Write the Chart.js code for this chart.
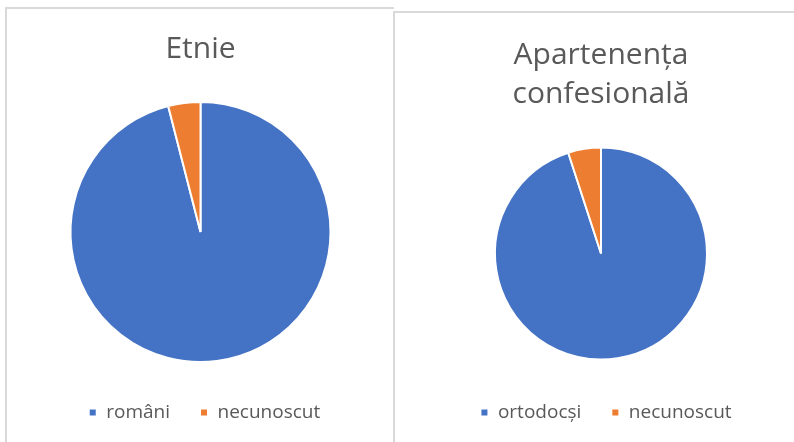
<!DOCTYPE html>
<html><head><meta charset="utf-8">
<script src="https://cdn.jsdelivr.net/npm/chart.js@4.4.0/dist/chart.umd.min.js"></script>
<style>
html,body{margin:0;padding:0;background:#fff;width:794px;height:442px;overflow:hidden;position:relative}
.box{position:absolute;border-top:2px solid #d9d9d9;border-left:2px solid #d9d9d9;box-sizing:border-box;background:#fff}
#b1{left:5px;top:7px;width:389px;height:445px}
#b2{left:393px;top:11px;width:420px;height:445px}
canvas{position:absolute}
#c1{left:4px;top:0px}
#c2{left:1px;top:0px}
</style></head><body>
<div class="box" id="b1"><canvas id="c1" width="387" height="433"></canvas></div>
<div class="box" id="b2"><canvas id="c2" width="410" height="429"></canvas></div>
<script>
const title1 = 'Etnie';
const labels1 = ['români', 'necunoscut'];
const values1 = [96, 4];
const title2 = ['Apartenența', 'confesională'];
const labels2 = ['ortodocși', 'necunoscut'];
const values2 = [95, 5];
const colors = ['#4472C4', '#ED7D31'];

const legendShift = {
  id: 'legendShift',
  afterLayout(chart, args, opts) {
    const dx = opts.dx || 0;
    if (chart.legend) { chart.legend.left += dx; chart.legend.right += dx; }
  }
};

function make(id, title, labels, values, radius, pad, titlePad, lh, legendPad, dx) {
  const c = document.getElementById(id);
  c.style.width = c.width + 'px'; c.style.height = c.height + 'px';
  return new Chart(c, {
    type: 'pie',
    data: { labels: labels, datasets: [{ data: values, backgroundColor: colors, borderColor: '#ffffff', borderWidth: 2, radius: radius }] },
    options: {
      responsive: false, animation: false, devicePixelRatio: 1,
      layout: { padding: pad },
      plugins: {
        title: { display: true, text: title, color: '#595959', font: { family: 'Open Sans', size: 30, weight: 'normal', lineHeight: lh }, padding: titlePad },
        legend: { position: 'bottom', labels: { color: '#595959', font: { family: 'Open Sans', size: 19 }, boxWidth: 8, boxHeight: 8, padding: legendPad } },
        legendShift: { dx: dx },
        tooltip: { enabled: false }
      }
    },
    plugins: [legendShift]
  });
}
make('c1', title1, labels1, values1, 130, { top: 8, bottom: 10, left: 0, right: 8 }, { top: 14, bottom: 24 }, 1.2, 30, 4);
make('c2', title2, labels2, values2, 106, { top: 6, bottom: 10, left: 0, right: 0 }, { top: 17, bottom: 20 }, 1.3, 30, 5);
</script>
</body></html>
